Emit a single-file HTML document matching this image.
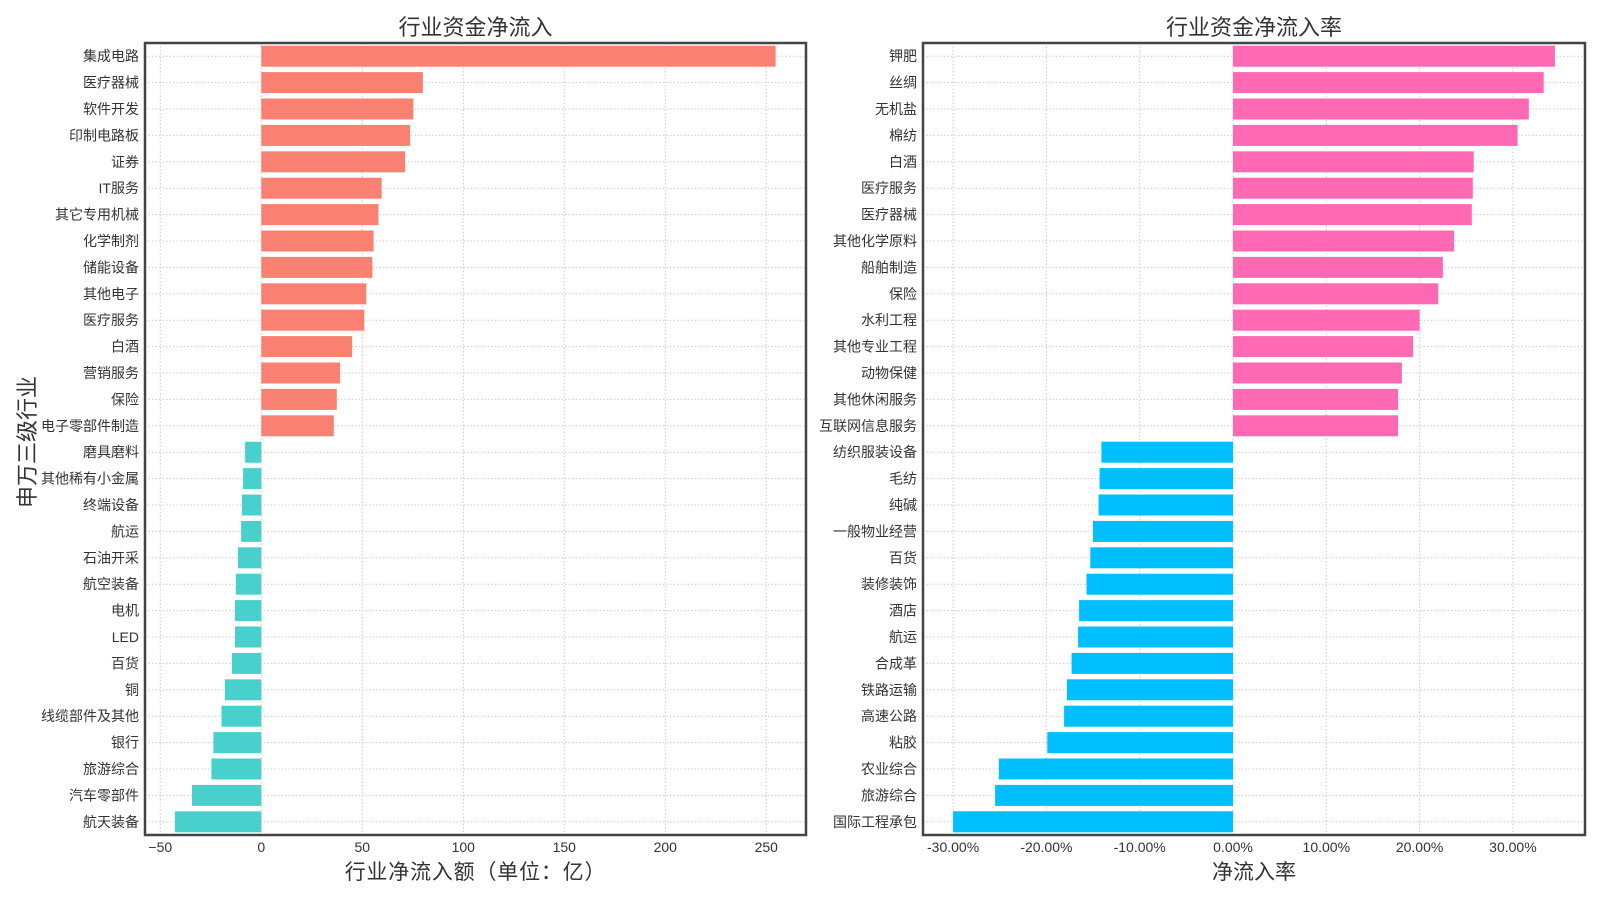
<!DOCTYPE html>
<html><head><meta charset="utf-8"><style>
html,body{margin:0;padding:0;background:#fff}
svg{display:block;font-family:"Liberation Sans","Noto Sans CJK SC",sans-serif;fill:#333}
.g{stroke:#ccc;stroke-width:1;stroke-dasharray:1.5,2}
.yl{font-size:14px;text-anchor:end}
.xl{font-size:14px;text-anchor:middle}
.a{fill:#FA8072}.b{fill:#48D1CC}.c{fill:#FF69B4}.d{fill:#00BFFF}
</style></head><body>
<svg width="1600" height="900" viewBox="0 0 1600 900" xmlns="http://www.w3.org/2000/svg">
<g class="g">
<line x1="160.3" y1="43" x2="160.3" y2="835"/><line x1="261.3" y1="43" x2="261.3" y2="835"/><line x1="362.3" y1="43" x2="362.3" y2="835"/><line x1="463.3" y1="43" x2="463.3" y2="835"/><line x1="564.3" y1="43" x2="564.3" y2="835"/><line x1="665.3" y1="43" x2="665.3" y2="835"/><line x1="766.3" y1="43" x2="766.3" y2="835"/>
<line x1="953.1" y1="43" x2="953.1" y2="835"/><line x1="1046.4" y1="43" x2="1046.4" y2="835"/><line x1="1139.7" y1="43" x2="1139.7" y2="835"/><line x1="1233" y1="43" x2="1233" y2="835"/><line x1="1326.3" y1="43" x2="1326.3" y2="835"/><line x1="1419.6" y1="43" x2="1419.6" y2="835"/><line x1="1512.9" y1="43" x2="1512.9" y2="835"/>
</g>
<g>
<g transform="translate(0,56.2)"><line class="g" x1="145" x2="806" y1="0" y2="0"/><rect class="a" x="261.3" y="-10.5" width="514.3" height="21"/><text class="yl" x="139" y="5">集成电路</text></g>
<g transform="translate(0,82.6)"><line class="g" x1="145" x2="806" y1="0" y2="0"/><rect class="a" x="261.3" y="-10.5" width="161.6" height="21"/><text class="yl" x="139" y="5">医疗器械</text></g>
<g transform="translate(0,109)"><line class="g" x1="145" x2="806" y1="0" y2="0"/><rect class="a" x="261.3" y="-10.5" width="152.1" height="21"/><text class="yl" x="139" y="5">软件开发</text></g>
<g transform="translate(0,135.4)"><line class="g" x1="145" x2="806" y1="0" y2="0"/><rect class="a" x="261.3" y="-10.5" width="148.9" height="21"/><text class="yl" x="139" y="5">印制电路板</text></g>
<g transform="translate(0,161.8)"><line class="g" x1="145" x2="806" y1="0" y2="0"/><rect class="a" x="261.3" y="-10.5" width="143.8" height="21"/><text class="yl" x="139" y="5">证券</text></g>
<g transform="translate(0,188.2)"><line class="g" x1="145" x2="806" y1="0" y2="0"/><rect class="a" x="261.3" y="-10.5" width="120.4" height="21"/><text class="yl" x="139" y="5">IT服务</text></g>
<g transform="translate(0,214.6)"><line class="g" x1="145" x2="806" y1="0" y2="0"/><rect class="a" x="261.3" y="-10.5" width="117.2" height="21"/><text class="yl" x="139" y="5">其它专用机械</text></g>
<g transform="translate(0,241)"><line class="g" x1="145" x2="806" y1="0" y2="0"/><rect class="a" x="261.3" y="-10.5" width="112.3" height="21"/><text class="yl" x="139" y="5">化学制剂</text></g>
<g transform="translate(0,267.4)"><line class="g" x1="145" x2="806" y1="0" y2="0"/><rect class="a" x="261.3" y="-10.5" width="111.1" height="21"/><text class="yl" x="139" y="5">储能设备</text></g>
<g transform="translate(0,293.8)"><line class="g" x1="145" x2="806" y1="0" y2="0"/><rect class="a" x="261.3" y="-10.5" width="105" height="21"/><text class="yl" x="139" y="5">其他电子</text></g>
<g transform="translate(0,320.2)"><line class="g" x1="145" x2="806" y1="0" y2="0"/><rect class="a" x="261.3" y="-10.5" width="103" height="21"/><text class="yl" x="139" y="5">医疗服务</text></g>
<g transform="translate(0,346.6)"><line class="g" x1="145" x2="806" y1="0" y2="0"/><rect class="a" x="261.3" y="-10.5" width="90.9" height="21"/><text class="yl" x="139" y="5">白酒</text></g>
<g transform="translate(0,373)"><line class="g" x1="145" x2="806" y1="0" y2="0"/><rect class="a" x="261.3" y="-10.5" width="78.8" height="21"/><text class="yl" x="139" y="5">营销服务</text></g>
<g transform="translate(0,399.4)"><line class="g" x1="145" x2="806" y1="0" y2="0"/><rect class="a" x="261.3" y="-10.5" width="75.5" height="21"/><text class="yl" x="139" y="5">保险</text></g>
<g transform="translate(0,425.8)"><line class="g" x1="145" x2="806" y1="0" y2="0"/><rect class="a" x="261.3" y="-10.5" width="72.5" height="21"/><text class="yl" x="139" y="5">电子零部件制造</text></g>
<g transform="translate(0,452.2)"><line class="g" x1="145" x2="806" y1="0" y2="0"/><rect class="b" x="245.1" y="-10.5" width="16.2" height="21"/><text class="yl" x="139" y="5">磨具磨料</text></g>
<g transform="translate(0,478.6)"><line class="g" x1="145" x2="806" y1="0" y2="0"/><rect class="b" x="243.1" y="-10.5" width="18.2" height="21"/><text class="yl" x="139" y="5">其他稀有小金属</text></g>
<g transform="translate(0,505)"><line class="g" x1="145" x2="806" y1="0" y2="0"/><rect class="b" x="241.9" y="-10.5" width="19.4" height="21"/><text class="yl" x="139" y="5">终端设备</text></g>
<g transform="translate(0,531.4)"><line class="g" x1="145" x2="806" y1="0" y2="0"/><rect class="b" x="241.1" y="-10.5" width="20.2" height="21"/><text class="yl" x="139" y="5">航运</text></g>
<g transform="translate(0,557.8)"><line class="g" x1="145" x2="806" y1="0" y2="0"/><rect class="b" x="237.9" y="-10.5" width="23.4" height="21"/><text class="yl" x="139" y="5">石油开采</text></g>
<g transform="translate(0,584.2)"><line class="g" x1="145" x2="806" y1="0" y2="0"/><rect class="b" x="235.8" y="-10.5" width="25.5" height="21"/><text class="yl" x="139" y="5">航空装备</text></g>
<g transform="translate(0,610.6)"><line class="g" x1="145" x2="806" y1="0" y2="0"/><rect class="b" x="235" y="-10.5" width="26.3" height="21"/><text class="yl" x="139" y="5">电机</text></g>
<g transform="translate(0,637)"><line class="g" x1="145" x2="806" y1="0" y2="0"/><rect class="b" x="235" y="-10.5" width="26.3" height="21"/><text class="yl" x="139" y="5">LED</text></g>
<g transform="translate(0,663.4)"><line class="g" x1="145" x2="806" y1="0" y2="0"/><rect class="b" x="231.8" y="-10.5" width="29.5" height="21"/><text class="yl" x="139" y="5">百货</text></g>
<g transform="translate(0,689.8)"><line class="g" x1="145" x2="806" y1="0" y2="0"/><rect class="b" x="224.9" y="-10.5" width="36.4" height="21"/><text class="yl" x="139" y="5">铜</text></g>
<g transform="translate(0,716.2)"><line class="g" x1="145" x2="806" y1="0" y2="0"/><rect class="b" x="221.5" y="-10.5" width="39.8" height="21"/><text class="yl" x="139" y="5">线缆部件及其他</text></g>
<g transform="translate(0,742.6)"><line class="g" x1="145" x2="806" y1="0" y2="0"/><rect class="b" x="213.4" y="-10.5" width="47.9" height="21"/><text class="yl" x="139" y="5">银行</text></g>
<g transform="translate(0,769)"><line class="g" x1="145" x2="806" y1="0" y2="0"/><rect class="b" x="211.4" y="-10.5" width="49.9" height="21"/><text class="yl" x="139" y="5">旅游综合</text></g>
<g transform="translate(0,795.4)"><line class="g" x1="145" x2="806" y1="0" y2="0"/><rect class="b" x="192" y="-10.5" width="69.3" height="21"/><text class="yl" x="139" y="5">汽车零部件</text></g>
<g transform="translate(0,821.8)"><line class="g" x1="145" x2="806" y1="0" y2="0"/><rect class="b" x="175" y="-10.5" width="86.3" height="21"/><text class="yl" x="139" y="5">航天装备</text></g>
</g>
<g>
<g transform="translate(0,56.2)"><line class="g" x1="923" x2="1585" y1="0" y2="0"/><rect class="c" x="1233" y="-10.5" width="321.9" height="21"/><text class="yl" x="917" y="5">钾肥</text></g>
<g transform="translate(0,82.6)"><line class="g" x1="923" x2="1585" y1="0" y2="0"/><rect class="c" x="1233" y="-10.5" width="310.7" height="21"/><text class="yl" x="917" y="5">丝绸</text></g>
<g transform="translate(0,109)"><line class="g" x1="923" x2="1585" y1="0" y2="0"/><rect class="c" x="1233" y="-10.5" width="295.8" height="21"/><text class="yl" x="917" y="5">无机盐</text></g>
<g transform="translate(0,135.4)"><line class="g" x1="923" x2="1585" y1="0" y2="0"/><rect class="c" x="1233" y="-10.5" width="284.6" height="21"/><text class="yl" x="917" y="5">棉纺</text></g>
<g transform="translate(0,161.8)"><line class="g" x1="923" x2="1585" y1="0" y2="0"/><rect class="c" x="1233" y="-10.5" width="240.7" height="21"/><text class="yl" x="917" y="5">白酒</text></g>
<g transform="translate(0,188.2)"><line class="g" x1="923" x2="1585" y1="0" y2="0"/><rect class="c" x="1233" y="-10.5" width="239.8" height="21"/><text class="yl" x="917" y="5">医疗服务</text></g>
<g transform="translate(0,214.6)"><line class="g" x1="923" x2="1585" y1="0" y2="0"/><rect class="c" x="1233" y="-10.5" width="238.8" height="21"/><text class="yl" x="917" y="5">医疗器械</text></g>
<g transform="translate(0,241)"><line class="g" x1="923" x2="1585" y1="0" y2="0"/><rect class="c" x="1233" y="-10.5" width="221.1" height="21"/><text class="yl" x="917" y="5">其他化学原料</text></g>
<g transform="translate(0,267.4)"><line class="g" x1="923" x2="1585" y1="0" y2="0"/><rect class="c" x="1233" y="-10.5" width="209.9" height="21"/><text class="yl" x="917" y="5">船舶制造</text></g>
<g transform="translate(0,293.8)"><line class="g" x1="923" x2="1585" y1="0" y2="0"/><rect class="c" x="1233" y="-10.5" width="205.3" height="21"/><text class="yl" x="917" y="5">保险</text></g>
<g transform="translate(0,320.2)"><line class="g" x1="923" x2="1585" y1="0" y2="0"/><rect class="c" x="1233" y="-10.5" width="186.6" height="21"/><text class="yl" x="917" y="5">水利工程</text></g>
<g transform="translate(0,346.6)"><line class="g" x1="923" x2="1585" y1="0" y2="0"/><rect class="c" x="1233" y="-10.5" width="180.1" height="21"/><text class="yl" x="917" y="5">其他专业工程</text></g>
<g transform="translate(0,373)"><line class="g" x1="923" x2="1585" y1="0" y2="0"/><rect class="c" x="1233" y="-10.5" width="168.9" height="21"/><text class="yl" x="917" y="5">动物保健</text></g>
<g transform="translate(0,399.4)"><line class="g" x1="923" x2="1585" y1="0" y2="0"/><rect class="c" x="1233" y="-10.5" width="165.1" height="21"/><text class="yl" x="917" y="5">其他休闲服务</text></g>
<g transform="translate(0,425.8)"><line class="g" x1="923" x2="1585" y1="0" y2="0"/><rect class="c" x="1233" y="-10.5" width="165.1" height="21"/><text class="yl" x="917" y="5">互联网信息服务</text></g>
<g transform="translate(0,452.2)"><line class="g" x1="923" x2="1585" y1="0" y2="0"/><rect class="d" x="1101.4" y="-10.5" width="131.6" height="21"/><text class="yl" x="917" y="5">纺织服装设备</text></g>
<g transform="translate(0,478.6)"><line class="g" x1="923" x2="1585" y1="0" y2="0"/><rect class="d" x="1099.6" y="-10.5" width="133.4" height="21"/><text class="yl" x="917" y="5">毛纺</text></g>
<g transform="translate(0,505)"><line class="g" x1="923" x2="1585" y1="0" y2="0"/><rect class="d" x="1098.6" y="-10.5" width="134.4" height="21"/><text class="yl" x="917" y="5">纯碱</text></g>
<g transform="translate(0,531.4)"><line class="g" x1="923" x2="1585" y1="0" y2="0"/><rect class="d" x="1093" y="-10.5" width="140" height="21"/><text class="yl" x="917" y="5">一般物业经营</text></g>
<g transform="translate(0,557.8)"><line class="g" x1="923" x2="1585" y1="0" y2="0"/><rect class="d" x="1090.3" y="-10.5" width="142.7" height="21"/><text class="yl" x="917" y="5">百货</text></g>
<g transform="translate(0,584.2)"><line class="g" x1="923" x2="1585" y1="0" y2="0"/><rect class="d" x="1086.5" y="-10.5" width="146.5" height="21"/><text class="yl" x="917" y="5">装修装饰</text></g>
<g transform="translate(0,610.6)"><line class="g" x1="923" x2="1585" y1="0" y2="0"/><rect class="d" x="1079.1" y="-10.5" width="153.9" height="21"/><text class="yl" x="917" y="5">酒店</text></g>
<g transform="translate(0,637)"><line class="g" x1="923" x2="1585" y1="0" y2="0"/><rect class="d" x="1078.1" y="-10.5" width="154.9" height="21"/><text class="yl" x="917" y="5">航运</text></g>
<g transform="translate(0,663.4)"><line class="g" x1="923" x2="1585" y1="0" y2="0"/><rect class="d" x="1071.6" y="-10.5" width="161.4" height="21"/><text class="yl" x="917" y="5">合成革</text></g>
<g transform="translate(0,689.8)"><line class="g" x1="923" x2="1585" y1="0" y2="0"/><rect class="d" x="1066.9" y="-10.5" width="166.1" height="21"/><text class="yl" x="917" y="5">铁路运输</text></g>
<g transform="translate(0,716.2)"><line class="g" x1="923" x2="1585" y1="0" y2="0"/><rect class="d" x="1064.1" y="-10.5" width="168.9" height="21"/><text class="yl" x="917" y="5">高速公路</text></g>
<g transform="translate(0,742.6)"><line class="g" x1="923" x2="1585" y1="0" y2="0"/><rect class="d" x="1047.3" y="-10.5" width="185.7" height="21"/><text class="yl" x="917" y="5">粘胶</text></g>
<g transform="translate(0,769)"><line class="g" x1="923" x2="1585" y1="0" y2="0"/><rect class="d" x="998.8" y="-10.5" width="234.2" height="21"/><text class="yl" x="917" y="5">农业综合</text></g>
<g transform="translate(0,795.4)"><line class="g" x1="923" x2="1585" y1="0" y2="0"/><rect class="d" x="995.1" y="-10.5" width="237.9" height="21"/><text class="yl" x="917" y="5">旅游综合</text></g>
<g transform="translate(0,821.8)"><line class="g" x1="923" x2="1585" y1="0" y2="0"/><rect class="d" x="953.1" y="-10.5" width="279.9" height="21"/><text class="yl" x="917" y="5">国际工程承包</text></g>
</g>
<rect x="145" y="43" width="661" height="792" fill="none" stroke="#444" stroke-width="2.5"/>
<rect x="923" y="43" width="662" height="792" fill="none" stroke="#444" stroke-width="2.5"/>
<g class="xl">
<text x="160.3" y="852">−50</text><text x="261.3" y="852">0</text><text x="362.3" y="852">50</text><text x="463.3" y="852">100</text><text x="564.3" y="852">150</text><text x="665.3" y="852">200</text><text x="766.3" y="852">250</text>
<text x="953.1" y="852">-30.00%</text><text x="1046.4" y="852">-20.00%</text><text x="1139.7" y="852">-10.00%</text><text x="1233" y="852">0.00%</text><text x="1326.3" y="852">10.00%</text><text x="1419.6" y="852">20.00%</text><text x="1512.9" y="852">30.00%</text>
</g>
<text x="475.5" y="35" font-size="22" text-anchor="middle">行业资金净流入</text>
<text x="1254" y="35" font-size="22" text-anchor="middle">行业资金净流入率</text>
<text x="475.5" y="879" font-size="21" letter-spacing="0.8" text-anchor="middle">行业净流入额（单位：亿）</text>
<text x="1254" y="879" font-size="21" text-anchor="middle">净流入率</text>
<text transform="translate(35,442) rotate(-90)" font-size="22" text-anchor="middle">申万三级行业</text>
</svg>
</body></html>
